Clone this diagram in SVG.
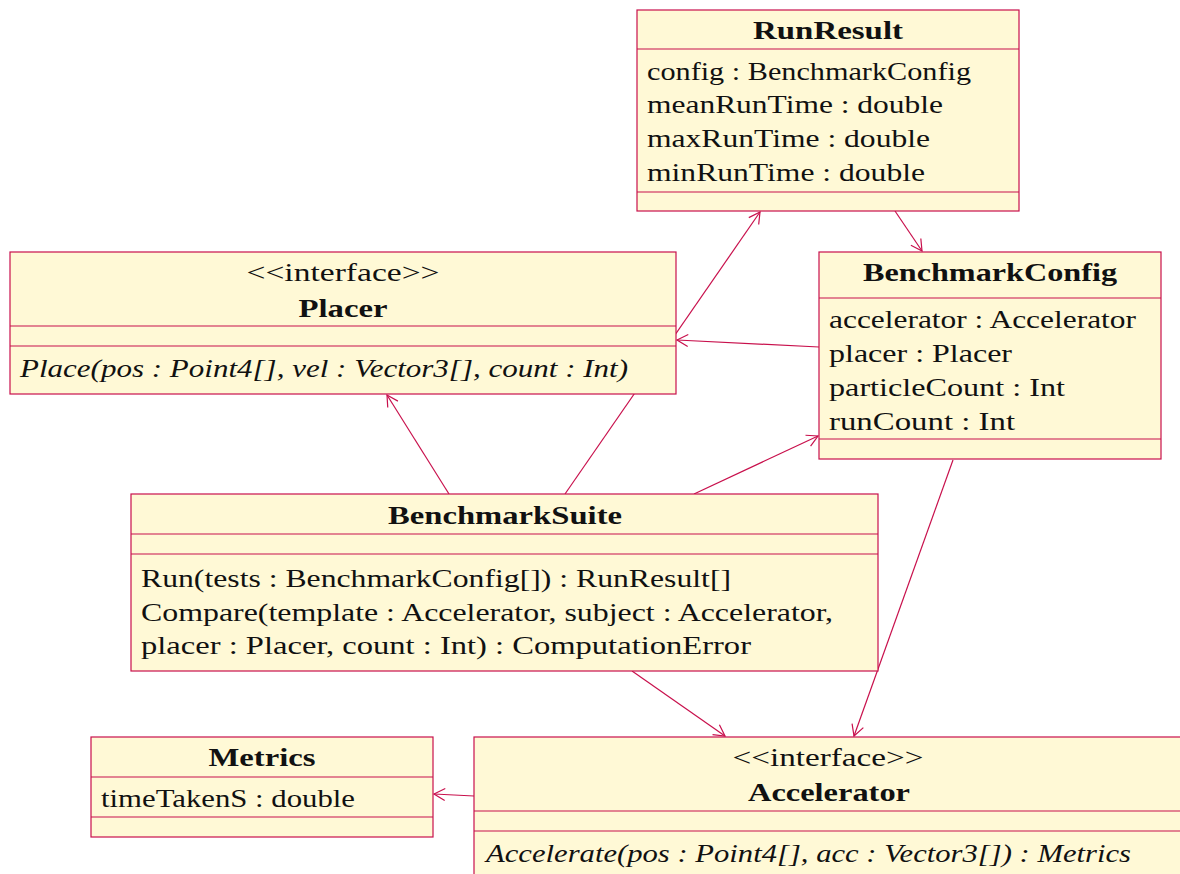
<svg xmlns="http://www.w3.org/2000/svg" width="1180" height="874" viewBox="0 0 1180 874">
<defs>
<style>
.box{fill:#fff9d6;stroke:#c8104c;stroke-width:1.2}
.sep{stroke:#c8104c;stroke-width:1.2}
.con{stroke:#c8104c;stroke-width:1.2;fill:none}
text{font-family:"Liberation Serif","DejaVu Serif",serif;font-size:25.5px;fill:#111}
.t{font-weight:bold;text-anchor:middle}
.c{text-anchor:middle}
.i{font-style:italic}
</style>
<marker id="ah" markerWidth="16" markerHeight="16" refX="0" refY="0" viewBox="-14 -8 16 16" orient="auto" markerUnits="userSpaceOnUse">
<path d="M-11,-6 L0,0 L-11,6" fill="none" stroke="#c8104c" stroke-width="1.2"/>
</marker>
</defs>
<rect width="1180" height="874" fill="#ffffff"/>
<g id="connectors">
<line class="con" x1="565" y1="494" x2="760" y2="212" marker-end="url(#ah)"/>
<line class="con" x1="895" y1="211" x2="922" y2="251" marker-end="url(#ah)"/>
<line class="con" x1="819" y1="347" x2="677" y2="340" marker-end="url(#ah)"/>
<line class="con" x1="449" y1="494" x2="387" y2="395" marker-end="url(#ah)"/>
<line class="con" x1="694" y1="494" x2="818" y2="436" marker-end="url(#ah)"/>
<line class="con" x1="953" y1="460" x2="854" y2="736" marker-end="url(#ah)"/>
<line class="con" x1="632" y1="671" x2="725" y2="736" marker-end="url(#ah)"/>
<line class="con" x1="474" y1="796" x2="434" y2="794" marker-end="url(#ah)"/>
</g>
<g id="RunResult">
<rect class="box" x="637" y="10" width="382" height="201"/>
<line class="sep" x1="637" y1="49" x2="1019" y2="49"/>
<line class="sep" x1="637" y1="192" x2="1019" y2="192"/>
<text class="t" x="828" y="39" textLength="150" lengthAdjust="spacingAndGlyphs">RunResult</text>
<text x="647" y="80" textLength="324" lengthAdjust="spacingAndGlyphs">config : BenchmarkConfig</text>
<text x="647" y="113" textLength="296" lengthAdjust="spacingAndGlyphs">meanRunTime : double</text>
<text x="647" y="147" textLength="283" lengthAdjust="spacingAndGlyphs">maxRunTime : double</text>
<text x="647" y="181" textLength="278" lengthAdjust="spacingAndGlyphs">minRunTime : double</text>
</g>
<g id="Placer">
<rect class="box" x="10" y="252" width="666" height="142"/>
<line class="sep" x1="10" y1="326" x2="676" y2="326"/>
<line class="sep" x1="10" y1="346" x2="676" y2="346"/>
<text class="c" x="343" y="281" textLength="193" lengthAdjust="spacingAndGlyphs">&lt;&lt;interface&gt;&gt;</text>
<text class="t" x="343" y="317" textLength="89" lengthAdjust="spacingAndGlyphs">Placer</text>
<text class="i" x="20" y="377" textLength="608" lengthAdjust="spacingAndGlyphs">Place(pos : Point4[], vel : Vector3[], count : Int)</text>
</g>
<g id="BenchmarkConfig">
<rect class="box" x="819" y="252" width="342" height="207"/>
<line class="sep" x1="819" y1="298" x2="1161" y2="298"/>
<line class="sep" x1="819" y1="439" x2="1161" y2="439"/>
<text class="t" x="990" y="281" textLength="254" lengthAdjust="spacingAndGlyphs">BenchmarkConfig</text>
<text x="829" y="328" textLength="307" lengthAdjust="spacingAndGlyphs">accelerator : Accelerator</text>
<text x="829" y="362" textLength="183" lengthAdjust="spacingAndGlyphs">placer : Placer</text>
<text x="829" y="396" textLength="236" lengthAdjust="spacingAndGlyphs">particleCount : Int</text>
<text x="829" y="430" textLength="186" lengthAdjust="spacingAndGlyphs">runCount : Int</text>
</g>
<g id="BenchmarkSuite">
<rect class="box" x="131" y="494" width="747" height="177"/>
<line class="sep" x1="131" y1="534" x2="878" y2="534"/>
<line class="sep" x1="131" y1="554" x2="878" y2="554"/>
<text class="t" x="505" y="524" textLength="234" lengthAdjust="spacingAndGlyphs">BenchmarkSuite</text>
<text x="141" y="587" textLength="590" lengthAdjust="spacingAndGlyphs">Run(tests : BenchmarkConfig[]) : RunResult[]</text>
<text x="141" y="621" textLength="692" lengthAdjust="spacingAndGlyphs">Compare(template : Accelerator, subject : Accelerator,</text>
<text x="141" y="654" textLength="610" lengthAdjust="spacingAndGlyphs">placer : Placer, count : Int) : ComputationError</text>
</g>
<g id="Metrics">
<rect class="box" x="91" y="737" width="342" height="100"/>
<line class="sep" x1="91" y1="777" x2="433" y2="777"/>
<line class="sep" x1="91" y1="817" x2="433" y2="817"/>
<text class="t" x="262" y="766" textLength="107" lengthAdjust="spacingAndGlyphs">Metrics</text>
<text x="101" y="807" textLength="254" lengthAdjust="spacingAndGlyphs">timeTakenS : double</text>
</g>
<g id="Accelerator">
<rect class="box" x="474" y="737" width="720" height="150"/>
<line class="sep" x1="474" y1="811" x2="1194" y2="811"/>
<line class="sep" x1="474" y1="831" x2="1194" y2="831"/>
<text class="c" x="828" y="766" textLength="191" lengthAdjust="spacingAndGlyphs">&lt;&lt;interface&gt;&gt;</text>
<text class="t" x="829" y="801" textLength="162" lengthAdjust="spacingAndGlyphs">Accelerator</text>
<text class="i" x="486" y="862" textLength="645" lengthAdjust="spacingAndGlyphs">Accelerate(pos : Point4[], acc : Vector3[]) : Metrics</text>
</g>
</svg>
